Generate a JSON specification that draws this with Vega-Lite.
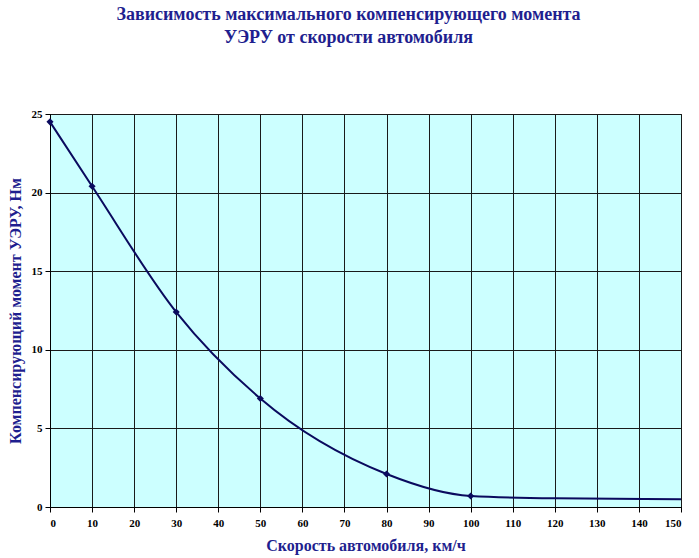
{
  "$schema": "https://vega.github.io/schema/vega-lite/v6.json",
  "width": 631,
  "height": 393,
  "autosize": "none",
  "padding": {"left": 50, "top": 114, "right": 18, "bottom": 51},
  "background": "white",
  "title": {
    "text": ["Зависимость максимального компенсирующего момента", "УЭРУ от скорости автомобиля"],
    "font": "Liberation Serif",
    "fontSize": 18,
    "fontWeight": "bold",
    "color": "#1f1f8f",
    "offset": 61,
    "lineHeight": 23,
    "anchor": "middle",
    "dx": -17
  },
  "data": {
    "values": [
      {"speed": 0, "moment": 24.5, "marker": true},
      {"speed": 10, "moment": 20.4, "marker": true},
      {"speed": 30, "moment": 12.4, "marker": true},
      {"speed": 50, "moment": 6.9, "marker": true},
      {"speed": 80, "moment": 2.1, "marker": true},
      {"speed": 100, "moment": 0.7, "marker": true},
      {"speed": 120, "moment": 0.55, "marker": false},
      {"speed": 150, "moment": 0.5, "marker": false}
    ]
  },
  "encoding": {
    "x": {
      "field": "speed",
      "type": "quantitative",
      "title": "Скорость автомобиля, км/ч",
      "scale": {"domain": [0, 150], "nice": false},
      "axis": {"values": [0, 10, 20, 30, 40, 50, 60, 70, 80, 90, 100, 110, 120, 130, 140, 150], "titlePadding": 9, "labelPadding": 5}
    },
    "y": {
      "field": "moment",
      "type": "quantitative",
      "title": "Компенсирующий момент УЭРУ, Нм",
      "scale": {"domain": [0, 25], "nice": false},
      "axis": {"values": [0, 5, 10, 15, 20, 25], "titlePadding": 8, "labelPadding": 3}
    }
  },
  "layer": [
    {
      "mark": {"type": "line", "interpolate": "monotone", "color": "#0a0a5e", "strokeWidth": 2}
    },
    {
      "transform": [{"filter": "datum.marker"}],
      "mark": {"type": "point", "shape": "diamond", "filled": true, "size": 50, "color": "#0a0a5e", "opacity": 1}
    }
  ],
  "config": {
    "view": {"fill": "#ccffff", "stroke": "#000000", "strokeWidth": 1},
    "axis": {
      "grid": true,
      "gridColor": "#1a1a1a",
      "gridOpacity": 1,
      "gridWidth": 1,
      "domainColor": "#000000",
      "tickColor": "#000000",
      "tickSize": 5,
      "labelFont": "Liberation Serif",
      "labelFontSize": 11,
      "labelFontWeight": "bold",
      "labelColor": "#000000",
      "titleFont": "Liberation Serif",
      "titleFontSize": 16,
      "titleFontWeight": "bold",
      "titleColor": "#1f1f8f"
    }
  }
}
